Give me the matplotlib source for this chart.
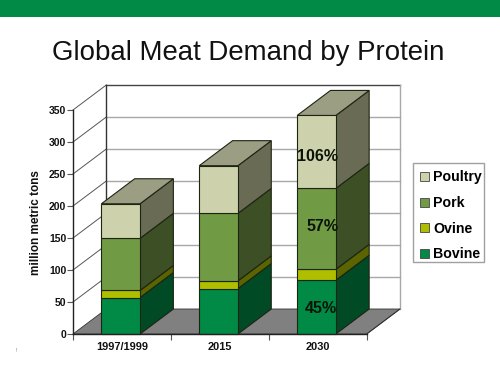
import matplotlib
matplotlib.use("Agg")
import matplotlib.pyplot as plt
import numpy as np
from matplotlib.patches import Patch, Polygon, Rectangle

categories = ["1997/1999", "2015", "2030"]
series_names = ["Bovine", "Ovine", "Pork", "Poultry"]
bovine = [57, 71, 84]
ovine = [11, 12, 17]
pork = [81.5, 105.5, 126.5]
poultry = [54, 74.5, 114]
growth_labels = ["45%", "57%", "106%"]  # 2030 bar, bottom to top
growth_label_y = [40, 168, 278]
y_ticks = [0, 50, 100, 150, 200, 250, 300, 350]

front_colors = ["#008a45", "#afbf00", "#719a45", "#cdd2ac"]
side_colors = ["#004a25", "#5a6400", "#3c4f25", "#696b54"]
top_color = "#9c9e83"
edge_color = "#1c2412"

W, H = 500, 375
plt.rcParams["font.family"] = ["Liberation Sans", "DejaVu Sans"]

fig = plt.figure(figsize=(W / 100, H / 100), dpi=100)

# green band across the top of the slide
fig.add_artist(Rectangle((0, 1 - 17 / H), 1, 17 / H, transform=fig.transFigure, color="#008a45", lw=0))
fig.text(248 / W, 1 - 53 / H, "Global Meat Demand by Protein", fontsize=19.9, ha="center", va="center", color="#111111")
fig.text(16 / W, 1 - 350 / H, "!", fontsize=3.5, ha="center", va="center", color="#777777")

ax = fig.add_axes([73 / W, 1 - 334 / H, 293.7 / W, 224 / H])
ax.set_xlim(0, 3)
ax.set_ylim(0, 350)
ax.patch.set_visible(False)
for side in ["top", "right"]:
    ax.spines[side].set_visible(False)
for side in ["left", "bottom"]:
    ax.spines[side].set_color("#222222")
    ax.spines[side].set_linewidth(1.0)
    ax.spines[side].set_zorder(6)

# depth of the fake 3d box, in data units
dx = 33.3 / 97.9
dy = 25 / 0.64

# floor
ax.add_patch(Polygon([(0, 0), (3, 0), (3 + dx, dy), (dx, dy)], closed=True, fc="#808080", ec="#333333", lw=0.6, clip_on=False, zorder=1))

# walls and grid lines
for v in y_ticks[1:]:
    grid_color = "#444444" if v == 350 else "#a8a8a8"
    ax.plot([dx, 3 + dx], [v + dy, v + dy], color=grid_color, lw=1.0, clip_on=False, zorder=1)
    ax.plot([0, dx], [v, v + dy], color="#555555", lw=0.7, clip_on=False, zorder=1)
ax.plot([dx, dx], [dy, 350 + dy], color="#333333", lw=1.0, clip_on=False, zorder=1)
ax.plot([3 + dx, 3 + dx], [dy, 350 + dy], color="#a8a8a8", lw=1.0, clip_on=False, zorder=1)
ax.plot([3, 3 + dx], [0, dy], color="#333333", lw=0.7, clip_on=False, zorder=2)

# bars
bar_left = 0.29
bar_width = 0.395
stacks = np.array([bovine, ovine, pork, poultry])
for i in range(len(categories)):
    x0 = i + bar_left
    x1 = x0 + bar_width
    base = 0
    for j in range(len(series_names)):
        top = base + stacks[j][i]
        ax.add_patch(Polygon([(x1, base), (x1 + dx, base + dy), (x1 + dx, top + dy), (x1, top)], closed=True,
                             fc=side_colors[j], ec=edge_color, lw=0.8, clip_on=False, zorder=3))
        ax.add_patch(Polygon([(x0, base), (x1, base), (x1, top), (x0, top)], closed=True,
                             fc=front_colors[j], ec=edge_color, lw=0.8, clip_on=False, zorder=4))
        base = top
    ax.add_patch(Polygon([(x0, base), (x1, base), (x1 + dx, base + dy), (x0 + dx, base + dy)], closed=True,
                         fc=top_color, ec=edge_color, lw=0.8, clip_on=False, zorder=4))

# growth labels on the 2030 bar
label_x = [2.535, 2.545, 2.50]
for x, y, text in zip(label_x, growth_label_y, growth_labels):
    ax.text(x, y, text, fontsize=11.5, fontweight="bold", ha="center", va="center", color="#0c140a", zorder=7)

# axes ticks
ax.set_yticks(y_ticks)
ax.set_xticks([0, 1, 2, 3])
ax.set_xticklabels([])
ax.set_xticks([0.5, 1.5, 2.5], categories, minor=True)
ax.tick_params(axis="x", which="minor", length=0, labelsize=7.9, pad=6)
ax.tick_params(axis="x", which="major", length=4, color="#555555", direction="out")
ax.tick_params(axis="y", length=4, width=0.8, color="#555555", labelsize=7.5, pad=0.8)
for lab in ax.get_yticklabels() + ax.get_xticklabels(minor=True):
    lab.set_fontweight("bold")
    lab.set_color("#111111")
fig.text(36 / W, 1 - 222.5 / H, "million metric tons", rotation=90, fontsize=8.5, fontweight="bold", ha="center", va="center", color="#111111")

# legend frame, then the entries without their own frame, poultry on top
fig.add_artist(Rectangle((413.3 / W, 1 - 261.7 / H), 71 / W, 98.4 / H, transform=fig.transFigure, fc="white", ec="#a0a0a0", lw=1.0))
handles = [Patch(fc=front_colors[j], ec="#444444", lw=0.6, label=series_names[j]) for j in range(3, -1, -1)]
leg = fig.legend(handles=handles, loc="upper left", bbox_to_anchor=(420 / W, 1 - 170.5 / H), borderaxespad=0,
                 prop={"weight": "bold", "size": 10.2}, frameon=False, handlelength=0.62, handleheight=0.62,
                 handletextpad=0.3, labelspacing=0.82, borderpad=0)

fig.savefig("out.png", dpi=100)
